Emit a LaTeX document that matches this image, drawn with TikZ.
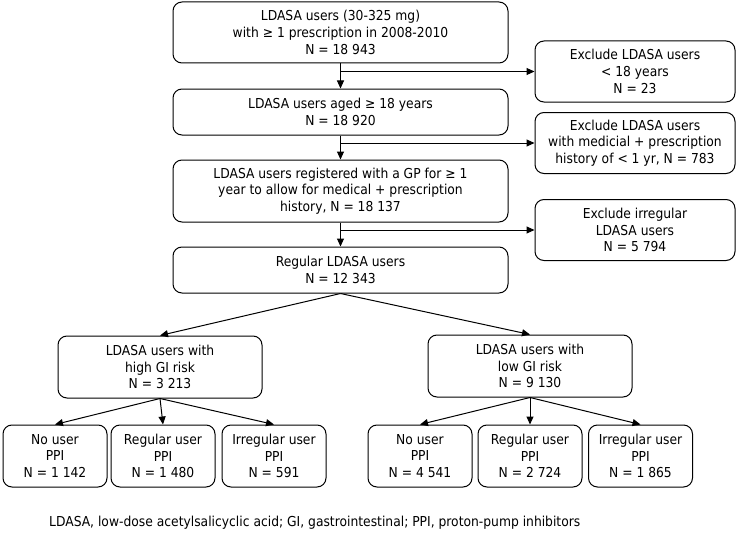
\documentclass[tikz,border=0pt]{standalone}
\usepackage{fontspec}
\setmainfont{DejaVu Sans Condensed}
\usetikzlibrary{arrows.meta}

\tikzset{
    box/.style={draw, rounded corners=9pt, line width=1pt, align=center, inner sep=1pt,
        font=\fontsize{13.7}{16.7}\selectfont},
    mainbox/.style={box, minimum width=335pt},
    sidebox/.style={box, minimum width=200pt, minimum height=61pt},
    riskbox/.style={box, minimum width=204pt, minimum height=62pt},
    leafbox/.style={box, minimum width=104pt, minimum height=62pt},
    flow/.style={-{Triangle[length=8pt,width=7pt]}, line width=1pt},
}

\begin{document}
\begin{tikzpicture}[x=1pt, y=-1pt]

        \useasboundingbox (0,0) rectangle (739,543);

        \node[mainbox, minimum height=61pt] (users) at (340.5, 32.5) {LDASA users (30-325 mg)\\with ≥ 1 prescription in 2008-2010\\N = 18 943};
        \node[mainbox, minimum height=46pt] (adults) at (340.5,112.0) {LDASA users aged ≥ 18 years\\N = 18 920};
        \node[mainbox, minimum height=62pt] (registered) at (340.5,191.0) {LDASA users registered with a GP for ≥ 1\\year to allow for medical + prescription\\history, N = 18 137};
        \node[mainbox, minimum height=46pt] (regular) at (340.5,270.0) {Regular LDASA users\\N = 12 343};

        \node[sidebox] (exadult) at (635, 71.5) {Exclude LDASA users\\< 18 years\\N = 23};
        \node[sidebox] (exhistory) at (635,143.0) {Exclude LDASA users\\with medicial + prescription\\history of < 1 yr, N = 783};
        \node[sidebox] (exirregular) at (635,230.0) {Exclude irregular\\LDASA users\\N = 5 794};

        \node[riskbox] (highrisk) at (160,367) {LDASA users with\\high GI risk\\N = 3 213};
        \node[riskbox] (lowrisk) at (530,366) {LDASA users with\\low GI risk\\N = 9 130};

        \node[leafbox] (hnone) at ( 55,456) {No user\\PPI\\N = 1 142};
        \node[leafbox] (hreg) at (163,456) {Regular user\\PPI\\N = 1 480};
        \node[leafbox] (hirreg) at (274,456) {Irregular user\\PPI\\N = 591};
        \node[leafbox] (lnone) at (420,456) {No user\\PPI\\N = 4 541};
        \node[leafbox] (lreg) at (530,456) {Regular user\\PPI\\N = 2 724};
        \node[leafbox] (lirreg) at (640.5,456) {Irregular user\\PPI\\N = 1 865};

        \node[anchor=west, inner sep=0pt, font=\fontsize{13.7}{16}\selectfont] (note) at (49,523)
            {LDASA, low-dose acetylsalicyclic acid; GI, gastrointestinal; PPI, proton-pump inhibitors};

        \draw[flow] (users) -- (adults);
        \draw[flow] (adults) -- (registered);
        \draw[flow] (registered) -- (regular);
        \draw[flow] (users.south |- exadult.west) -- (exadult.west);
        \draw[flow] (adults.south |- exhistory.west) -- (exhistory.west);
        \draw[flow] (registered.south |- exirregular.west) -- (exirregular.west);

        \draw[flow] (regular.south) -- (highrisk.north);
        \draw[flow] (regular.south) -- (lowrisk.north);

        \draw[flow] (highrisk.south) -- (hnone.north);
        \draw[flow] (highrisk.south) -- (hreg.north);
        \draw[flow] (highrisk.south) -- (hirreg.north);
        \draw[flow] (lowrisk.south) -- (lnone.north);
        \draw[flow] (lowrisk.south) -- (lreg.north);
        \draw[flow] (lowrisk.south) -- (lirreg.north);
    \end{tikzpicture}
\end{document}
